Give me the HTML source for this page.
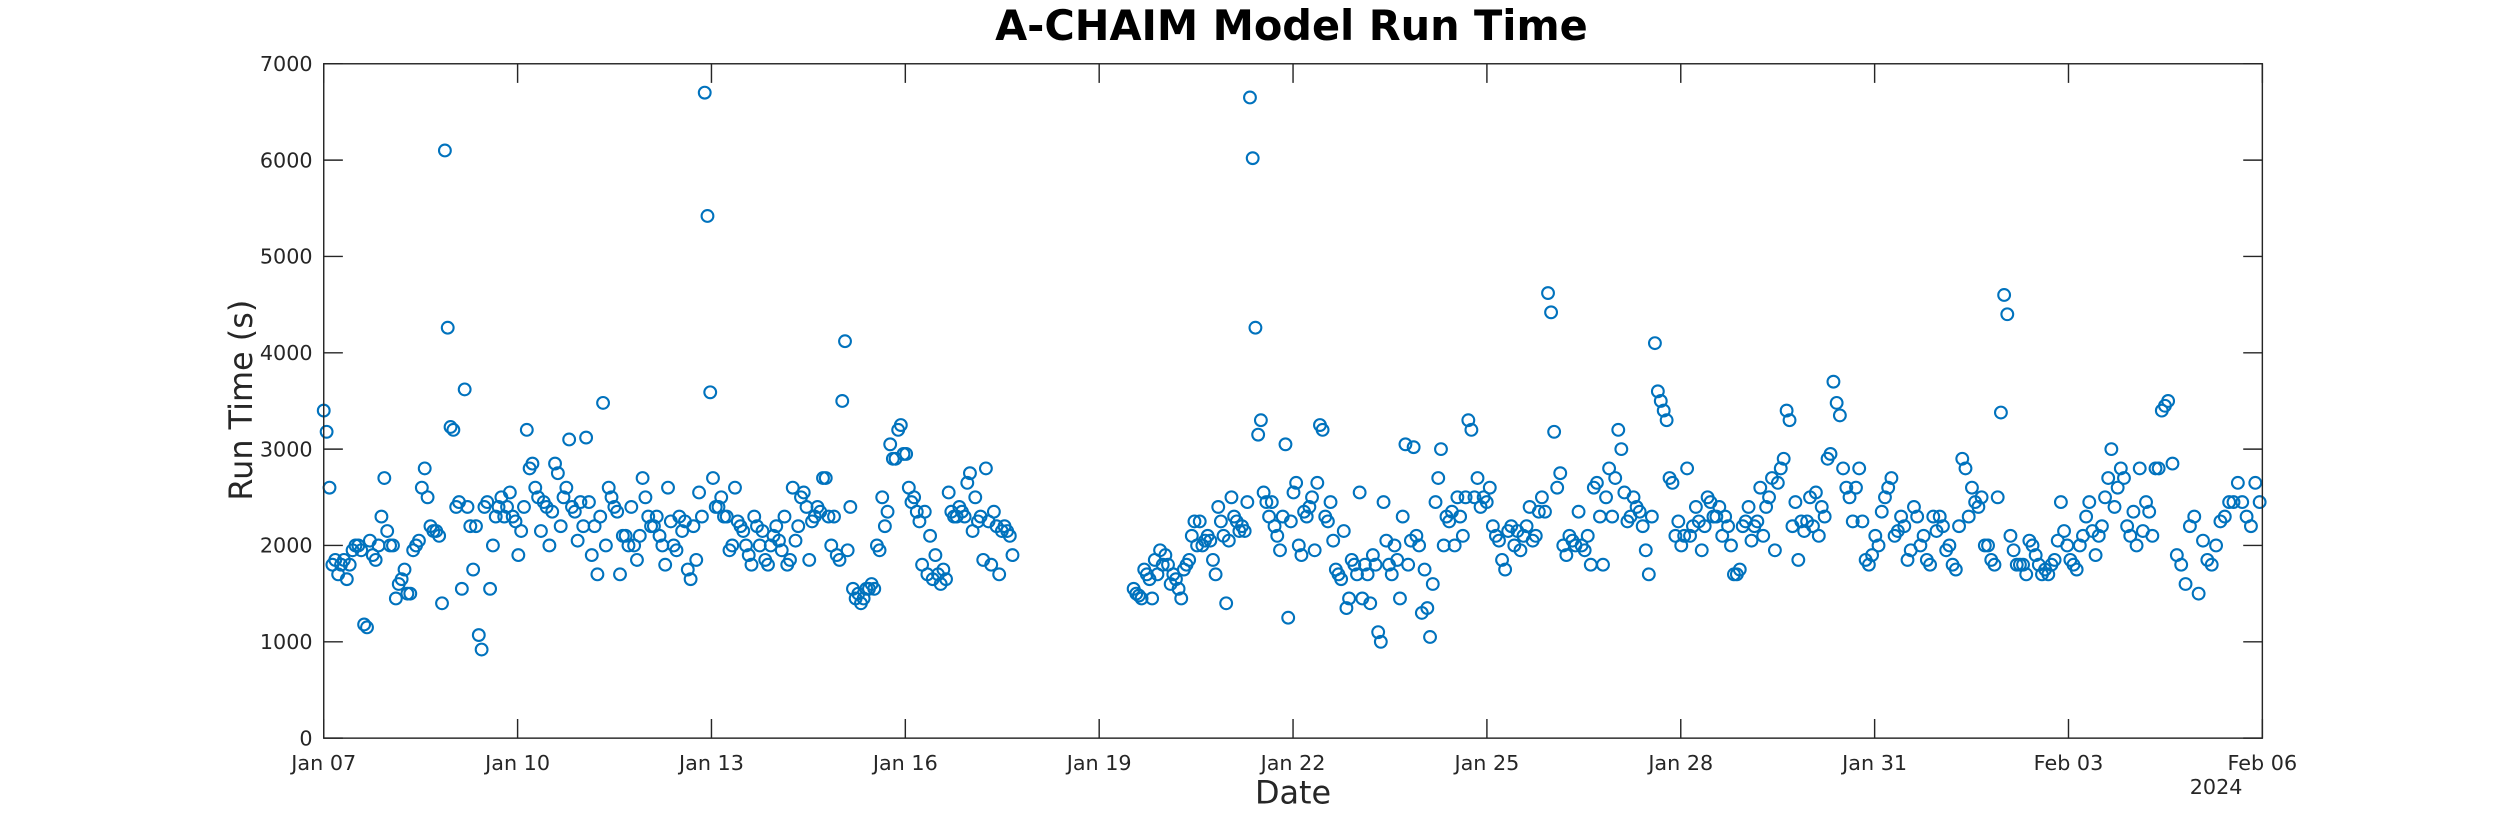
<!DOCTYPE html>
<html><head><meta charset="utf-8">
<style>
html,body{margin:0;padding:0;background:#fff;}
svg{display:block;font-family:"DejaVu Sans","Liberation Sans",sans-serif;}
</style></head>
<body>
<svg id="chart" width="2500" height="833" viewBox="0 0 1568 522.5" xmlns="http://www.w3.org/2000/svg">
<rect x="0" y="0" width="1568" height="522.5" fill="#fff"/>
<text x="810" y="25" text-anchor="middle" font-size="26" font-weight="bold" fill="#000">A-CHAIM Model Run Time</text>
<g id="grid-ticks"></g>
<g id="marks"></g>
<rect x="203" y="40" width="1216" height="423" fill="none" stroke="#262626" stroke-width="0.9"/>
<text x="811" y="504" text-anchor="middle" font-size="20" fill="#262626">Date</text>
<text x="1390" y="498" text-anchor="middle" font-size="13" fill="#262626">2024</text>
<text transform="translate(158,251) rotate(-90)" text-anchor="middle" font-size="20" fill="#262626">Run Time (s)</text>
</svg>
<script>
// Data: values in seconds; run times in hours since Jan 07 00:00 given by anchor [index, hour] pairs
const xTickLabels = ["Jan 07","Jan 10","Jan 13","Jan 16","Jan 19","Jan 22","Jan 25","Jan 28","Jan 31","Feb 03","Feb 06"];
const yTickValues = [0,1000,2000,3000,4000,5000,6000,7000];
const seg1Anchors = [[0,0],[42,45],[134,141.5],[185,193.6],[-1,255.8]];
const seg2Anchors = [[0,300.8],[44,344],[58,358.2],[93,392.6],[125,425.1],[151,454.7],[186,494.4],[247,560.7],[300,624.1],[352,685],[-1,719]];
const seg1Values = [3400,3180,2600,1800,1850,1700,1800,1850,1650,1800,1950,2000,2000,1950,1180,1150,2050,1900,1850,2000,2300,2700,2150,2000,2000,1450,1600,1650,1750,1500,1500,1950,2000,2050,2600,2800,2500,2200,2150,2150,2100,
1400,6100,4260,3230,3200,2400,2450,1550,3620,2400,2200,1750,2200,1070,920,2400,2450,1550,2000,2300,2400,2500,2300,2400,2550,2300,2250,1900,2150,2400,3200,2800,2850,2600,2500,2150,2450,2400,2000,2350,2850,2750,2200,2500,2600,3100,2400,2350,2050,2450,2200,3120,2450,1900,2200,1700,2300,3480,2000,2600,2500,2400,2350,1700,2100,2100,2000,2400,2000,1850,2100,2700,2500,2300,2200,2200,2300,2100,2000,1800,2600,2250,2000,1950,2300,2150,2250,1750,1650,2200,1850,2550,2300,6700,5420,3590,2700,2400,2400,2500,2300,2300,1950,2000,2600,2250,2200,2150,2000,1900,1800,2300,2200,2000,2150,1850,1800,2000,2100,2200,2050,1950,2300,1800,1850,2600,2050,2200,2500,2550,2400,1850,2250,2300,2400,2350,2700,2700,2300,2000,2300,1900,1850,3500,4120,1950,2400,1550,1450,1500,1400,1450,1550,1550,1600,1550,2000,1950,2500,2200,2350,3050,2900,2900,3200,3250,2950,2950,2600,2450,2500,2350,2250,1800,2350,1700,2100,1650,1900,1700,1600,1750,1650,2550,2350,2300,2300,2400,2350,2300,2650,2750,2150,2500,2250,2300,1850,2800,2250,1800,2350,2200,1700,2150,2200,2150,2100,1900];
const seg2Values = [1550,1500,1480,1450,1750,1700,1650,1450,1850,1700,1950,1800,1900,1800,1600,1700,1650,1550,1450,1750,1800,1850,2100,2250,2000,2250,2000,2050,2100,2050,1850,1700,2400,2250,2100,1400,2050,2500,2300,2250,2150,2200,2150,2450,6650,6020,4260,3150,3300,2550,2450,2300,2450,2200,2100,1950,2300,3050,1250,2250,2550,2650,2000,1900,2350,2300,2400,2500,1950,2650,3250,3200,2300,2250,2450,2050,1750,1700,1650,2150,1350,1450,1850,1800,1700,2550,1450,1800,1700,1400,1900,1800,1100,1000,2450,2050,1800,1700,2000,1850,1450,2300,3050,1800,2050,3020,2100,2000,1300,1750,1350,1050,1600,2450,2700,3000,2000,2300,2250,2350,2000,2500,2300,2100,2500,3300,3200,2500,2700,2400,2500,2450,2600,2200,2100,2050,1850,1750,2150,2200,2000,2150,1950,2100,2200,2400,2050,2100,2350,2500,2350,4620,4420,3180,2600,2750,2000,1900,2100,2050,2000,2350,2000,1950,2100,1800,2600,2650,2300,1800,2500,2800,2300,2700,3200,3000,2550,2250,2300,2500,2400,2350,2200,1950,1700,2300,4100,3600,3500,3400,3300,2700,2650,2100,2250,2000,2100,2800,2100,2200,2400,2250,1950,2200,2500,2450,2300,2300,2400,2100,2300,2200,2000,1700,1700,1750,2200,2250,2400,2050,2200,2250,2600,2100,2400,2500,2700,1950,2650,2800,2900,3400,3300,2200,2450,1850,2250,2150,2250,2500,2200,2550,2100,2400,2300,2900,2950,3700,3480,3350,2800,2600,2500,2250,2600,2800,2250,1850,1800,1900,2100,2000,2350,2500,2600,2700,2100,2150,2300,2200,1850,1950,2400,2300,2000,2100,1850,1800,2300,2150,2300,2200,1950,2000,1800,1750,2200,2900,2800,2300,2600,2450,2400,2500,2000,2000,1850,1800,2500,3380,4600,4400,2100,1950,1800,1800,1800,1700,2050,2000,1900,1800,1700,1750,1700,1800,1850,2050,2450,2150,2000,1850,1800,1750,2000,2100,2300,2450,2150,1900,2100,2200,2500,2700,3000,2400,2600,2800,2700,2200,2100,2350,2000,2800,2150,2450,2350,2100,2800,2800,3400,3450,3500,2850,1900,1800,1600,2200,2300,1500,2050,1850,1800,2000,2250,2300,2450,2450,2650,2450,2300,2200,2650,2450];

const X0=203, X1=1419, Y0=463, Y1=40, TMAX=720, VMAX=7000;
function xScale(h){return X0+(h/TMAX)*(X1-X0);}
function yScale(v){return Y0-(v/VMAX)*(Y0-Y1);}
const NS="http://www.w3.org/2000/svg";
const ticksG=document.getElementById('grid-ticks');
const marksG=document.getElementById('marks');

xTickLabels.forEach((lab,i)=>{
  const h=i*72, x=xScale(h);
  const t1=document.createElementNS(NS,'line');
  t1.setAttribute('x1',x);t1.setAttribute('x2',x);t1.setAttribute('y1',Y0);t1.setAttribute('y2',Y0-12);
  t1.setAttribute('stroke','#262626');t1.setAttribute('stroke-width','0.9');
  
  
  ticksG.appendChild(t1);
  const t2=document.createElementNS(NS,'line');
  t2.setAttribute('x1',x);t2.setAttribute('x2',x);t2.setAttribute('y1',Y1);t2.setAttribute('y2',Y1+12);
  t2.setAttribute('stroke','#262626');t2.setAttribute('stroke-width','0.9');
  
  
  ticksG.appendChild(t2);
  const tx=document.createElementNS(NS,'text');
  tx.setAttribute('x',x);tx.setAttribute('y',Y0+20);tx.setAttribute('text-anchor','middle');
  tx.setAttribute('font-size','13');tx.setAttribute('fill','#262626');
  tx.textContent=lab;
  
  
  ticksG.appendChild(tx);
});
yTickValues.forEach(v=>{
  const y=yScale(v);
  const t1=document.createElementNS(NS,'line');
  t1.setAttribute('x1',X0);t1.setAttribute('x2',X0+12);t1.setAttribute('y1',y);t1.setAttribute('y2',y);
  t1.setAttribute('stroke','#262626');t1.setAttribute('stroke-width','0.9');
  
  
  ticksG.appendChild(t1);
  const t2=document.createElementNS(NS,'line');
  t2.setAttribute('x1',X1);t2.setAttribute('x2',X1-12);t2.setAttribute('y1',y);t2.setAttribute('y2',y);
  t2.setAttribute('stroke','#262626');t2.setAttribute('stroke-width','0.9');
  
  
  ticksG.appendChild(t2);
  const tx=document.createElementNS(NS,'text');
  tx.setAttribute('x',X0-7);tx.setAttribute('y',y+4.5);tx.setAttribute('text-anchor','end');
  tx.setAttribute('font-size','13');tx.setAttribute('fill','#262626');
  tx.textContent=String(v);
  
  
  ticksG.appendChild(tx);
});
function timeAt(i,anchors,n){
  const a=anchors.map(p=>[p[0]<0?n-1:p[0],p[1]]);
  for(let k=0;k<a.length-1;k++){
    if(i>=a[k][0]&&i<=a[k+1][0]){
      const span=a[k+1][0]-a[k][0];
      return span?a[k][1]+(i-a[k][0])/span*(a[k+1][1]-a[k][1]):a[k][1];
    }
  }
  return a[a.length-1][1];
}
function drawSeg(vals,anchors){
  const n=vals.length;
  vals.forEach((v,i)=>{
    const h=timeAt(i,anchors,n);
    const c=document.createElementNS(NS,'circle');
    c.setAttribute('cx',xScale(h));c.setAttribute('cy',yScale(v));c.setAttribute('r','3.7');
    c.setAttribute('fill','none');c.setAttribute('stroke','#0072BD');c.setAttribute('stroke-width','1.3');
    
    
    marksG.appendChild(c);
  });
}
drawSeg(seg1Values,seg1Anchors);
drawSeg(seg2Values,seg2Anchors);
</script>
</body></html>
